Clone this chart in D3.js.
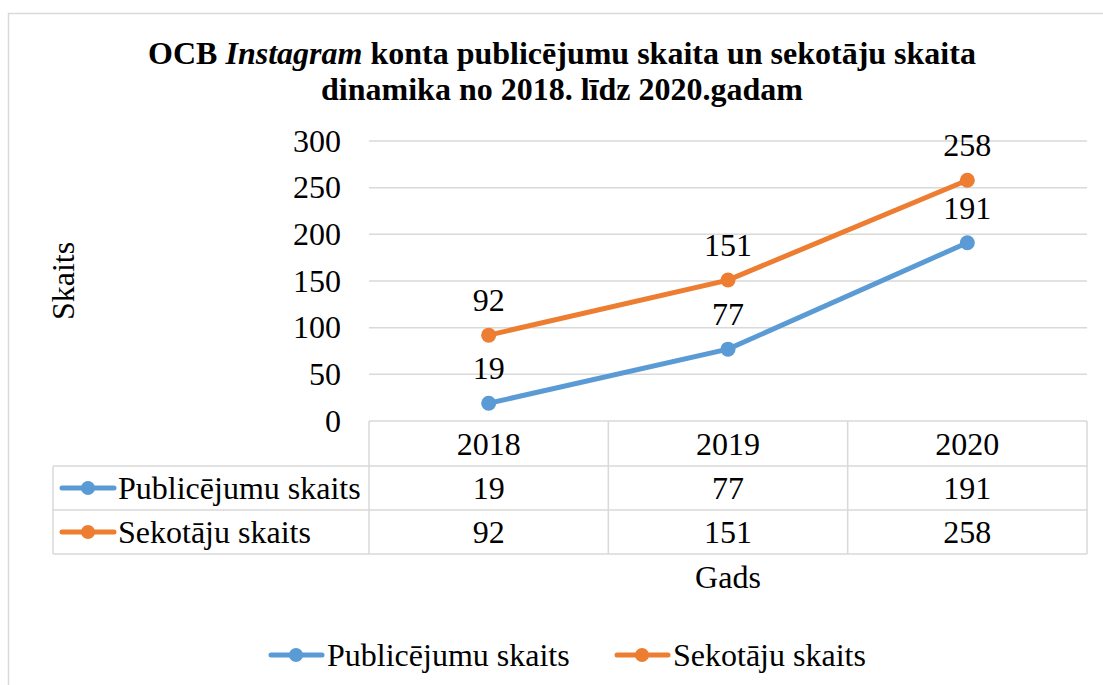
<!DOCTYPE html>
<html>
<head>
<meta charset="utf-8">
<script src="https://cdn.jsdelivr.net/npm/d3@7"></script>
<style>
  body { margin: 0; background: #fff; }
</style>
</head>
<body>
<div id="chart"></div>
<script>
var years = ["2018", "2019", "2020"];
var seriesNames = ["Publicējumu skaits", "Sekotāju skaits"];
var publicejumi = [19, 77, 191];
var sekotaji = [92, 151, 258];
var yTicks = [0, 50, 100, 150, 200, 250, 300];
var colors = ["#5B9BD5", "#ED7D31"];

var series = [
  {name: seriesNames[0], values: publicejumi, color: colors[0]},
  {name: seriesNames[1], values: sekotaji, color: colors[1]}
];

var W = 1103, H = 685;
var plot = {left: 369, right: 1087, top: 141, bottom: 421};
var fs = 32;
var font = "'Liberation Serif'";
var gridStroke = "#D9D9D9";

var svg = d3.select("#chart").append("svg")
    .attr("width", W)
    .attr("height", H);

// outer chart border
svg.append("rect")
    .attr("x", 8.5).attr("y", 13.5)
    .attr("width", W + 10).attr("height", H + 10)
    .attr("fill", "none").attr("stroke", gridStroke).attr("stroke-width", 1.5);

var x = d3.scaleBand()
    .domain(years)
    .range([plot.left, plot.right]);

var y = d3.scaleLinear()
    .domain([0, 300])
    .range([plot.bottom, plot.top]);

function cx(i) { return x(years[i]) + x.bandwidth() / 2; }

function label(sel) {
  return sel.style("font-family", font).attr("font-size", fs).attr("fill", "#000");
}

// gridlines
svg.append("g").selectAll("line")
    .data(yTicks)
    .enter().append("line")
    .attr("x1", plot.left).attr("x2", plot.right)
    .attr("y1", function(d) { return y(d); })
    .attr("y2", function(d) { return y(d); })
    .attr("stroke", gridStroke).attr("stroke-width", 1.5);

// y axis labels
var yAxis = d3.axisLeft(y).tickValues(yTicks).tickSize(0).tickPadding(28);
svg.append("g")
    .attr("transform", "translate(" + plot.left + ",0)")
    .call(yAxis)
    .call(function(g) { g.select(".domain").remove(); })
    .selectAll("text")
    .call(label);

// title
var title = svg.append("text")
    .attr("x", 562).attr("y", 64)
    .attr("text-anchor", "middle")
    .attr("font-weight", "bold")
    .style("font-family", font)
    .attr("font-size", 32);
title.append("tspan").text("OCB ");
title.append("tspan").attr("font-style", "italic").text("Instagram");
title.append("tspan").text(" konta publicējumu skaita un sekotāju skaita");
svg.append("text")
    .attr("x", 562).attr("y", 100)
    .attr("text-anchor", "middle")
    .attr("font-weight", "bold")
    .style("font-family", font)
    .attr("font-size", 32)
    .text("dinamika no 2018. līdz 2020.gadam");

// axis titles
svg.append("text")
    .attr("transform", "translate(74,281) rotate(-90)")
    .attr("text-anchor", "middle")
    .call(label)
    .text("Skaits");

svg.append("text")
    .attr("x", cx(1)).attr("y", 588)
    .attr("text-anchor", "middle")
    .call(label)
    .text("Gads");

// lines
var line = d3.line()
    .x(function(d, i) { return cx(i); })
    .y(function(d) { return y(d); });

series.forEach(function(s) {
  svg.append("path")
      .datum(s.values)
      .attr("d", line)
      .attr("fill", "none")
      .attr("stroke", s.color)
      .attr("stroke-width", 5)
      .attr("stroke-linecap", "round");
  svg.append("g").selectAll("circle")
      .data(s.values)
      .enter().append("circle")
      .attr("cx", function(d, i) { return cx(i); })
      .attr("cy", function(d) { return y(d); })
      .attr("r", 7.5)
      .attr("fill", s.color);
  svg.append("g").selectAll("text")
      .data(s.values)
      .enter().append("text")
      .attr("x", function(d, i) { return cx(i); })
      .attr("y", function(d) { return y(d) - 24; })
      .attr("text-anchor", "middle")
      .call(label)
      .text(function(d) { return d; });
});

// data table
var rowLines = [421, 466, 510, 554];
var tableLeft = 53;
var tg = svg.append("g");

[466, 510, 554].forEach(function(yy) {
  tg.append("line").attr("x1", tableLeft).attr("x2", plot.right)
      .attr("y1", yy).attr("y2", yy)
      .attr("stroke", gridStroke).attr("stroke-width", 1.5);
});
tg.append("line").attr("x1", tableLeft).attr("x2", tableLeft)
    .attr("y1", 466).attr("y2", 554)
    .attr("stroke", gridStroke).attr("stroke-width", 1.5);
years.concat(["end"]).forEach(function(c, i) {
  var xx = i < years.length ? x(c) : plot.right;
  tg.append("line").attr("x1", xx).attr("x2", xx)
      .attr("y1", plot.bottom).attr("y2", 554)
      .attr("stroke", gridStroke).attr("stroke-width", 1.5);
});

tg.selectAll(".hdr")
    .data(years)
    .enter().append("text")
    .attr("x", function(d) { return x(d) + x.bandwidth() / 2; })
    .attr("y", (rowLines[0] + rowLines[1]) / 2)
    .attr("dy", "0.35em")
    .attr("text-anchor", "middle")
    .call(label)
    .text(function(d) { return d; });

series.forEach(function(s, r) {
  var cy = (rowLines[r + 1] + rowLines[r + 2]) / 2;
  tg.append("line").attr("x1", 62).attr("x2", 114)
      .attr("y1", cy).attr("y2", cy)
      .attr("stroke", s.color).attr("stroke-width", 5)
      .attr("stroke-linecap", "round");
  tg.append("circle").attr("cx", 88).attr("cy", cy).attr("r", 7).attr("fill", s.color);
  tg.append("text").attr("x", 118).attr("y", cy).attr("dy", "0.35em")
      .call(label).text(s.name);
  tg.selectAll(".v" + r)
      .data(s.values)
      .enter().append("text")
      .attr("x", function(d, i) { return cx(i); })
      .attr("y", cy).attr("dy", "0.35em")
      .attr("text-anchor", "middle")
      .call(label)
      .text(function(d) { return d; });
});

// legend
var legendItems = [{x: 269, s: series[0]}, {x: 615, s: series[1]}];
legendItems.forEach(function(li) {
  var cy = 655;
  svg.append("line").attr("x1", li.x + 2).attr("x2", li.x + 53)
      .attr("y1", cy).attr("y2", cy)
      .attr("stroke", li.s.color).attr("stroke-width", 5)
      .attr("stroke-linecap", "round");
  svg.append("circle").attr("cx", li.x + 27).attr("cy", cy).attr("r", 7).attr("fill", li.s.color);
  svg.append("text").attr("x", li.x + 58).attr("y", cy).attr("dy", "0.35em")
      .call(label).text(li.s.name);
});
</script>
</body>
</html>
